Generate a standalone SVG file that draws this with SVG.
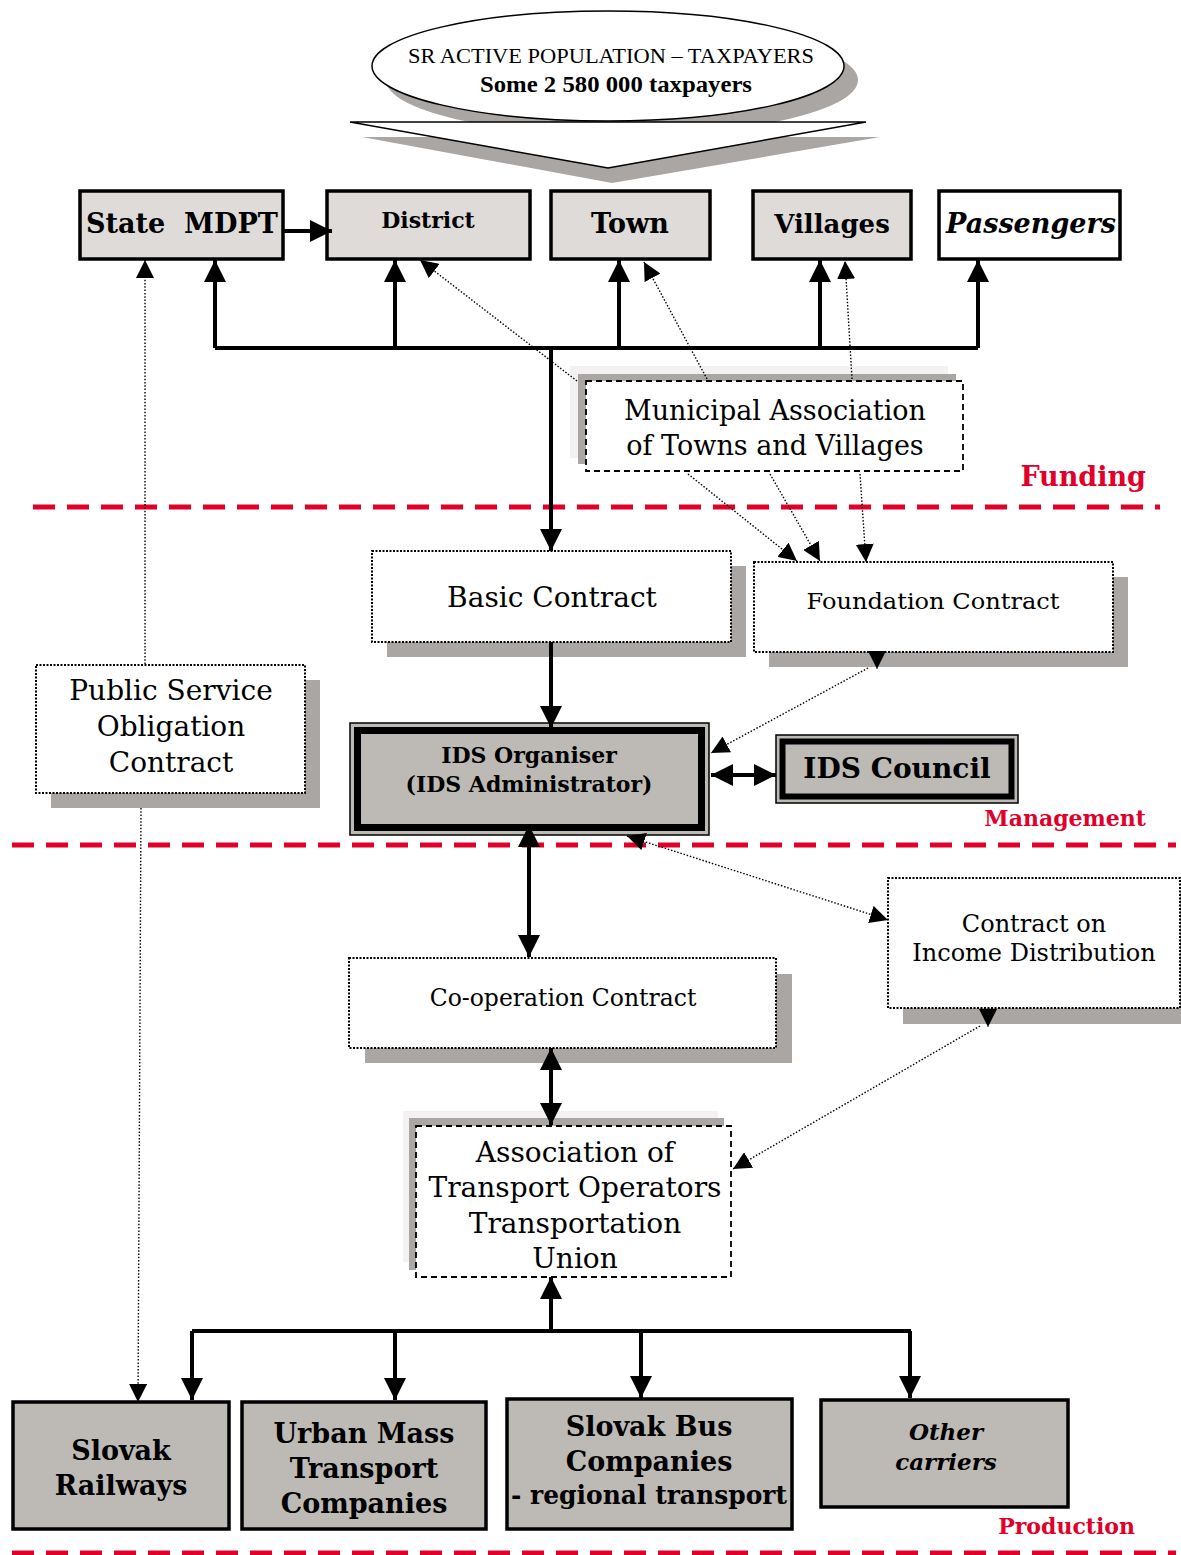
<svg xmlns="http://www.w3.org/2000/svg" width="1181" height="1555" viewBox="0 0 1181 1555">
<style>
.bk{font-family:"DejaVu Serif",serif;font-weight:bold;fill:#000;text-anchor:middle}
.rg{font-family:"DejaVu Serif",serif;fill:#000;text-anchor:middle}
.tm{font-family:"Liberation Serif",serif;fill:#000;text-anchor:middle}
.lab{font-family:"DejaVu Serif",serif;font-weight:bold;fill:#e0002a}
.top{fill:#dedbd8;stroke:#000;stroke-width:3.5}
.bot{fill:#bdbab5;stroke:#000;stroke-width:3.5}
.sh{fill:#a9a6a3}
.sh2{fill:#f3f1f1}
.dot{fill:#fff;stroke:#000;stroke-width:2;stroke-dasharray:2 1.5}
.dash{fill:#fff;stroke:#000;stroke-width:1.8;stroke-dasharray:6 4}
.sol{fill:none;stroke:#000;stroke-width:4}
.dl{fill:none;stroke:#000;stroke-width:1.4;stroke-dasharray:1.5 1.8}
.red{fill:none;stroke:#e0002a;stroke-width:5;stroke-dasharray:22 12}
</style>
<defs>
<marker id="a" markerUnits="userSpaceOnUse" markerWidth="24" markerHeight="22" refX="22" refY="11" orient="auto-start-reverse" viewBox="0 0 24 22">
<path d="M0,0 L22,11 L0,22 z" fill="#000"/>
</marker>
<marker id="s" markerUnits="userSpaceOnUse" markerWidth="20" markerHeight="18" refX="18" refY="9" orient="auto-start-reverse" viewBox="0 0 20 18">
<path d="M0,0 L18,9 L0,18 z" fill="#000"/>
</marker>
</defs>
<rect width="1181" height="1555" fill="#fff"/>

<g id="taxpayers">
<ellipse cx="622" cy="80" rx="236" ry="55" class="sh"/>
<ellipse cx="608" cy="66" rx="236" ry="55" fill="#fff" stroke="#000" stroke-width="1.5"/>
<text x="611" y="63" class="tm" font-size="21.5" textLength="406" lengthAdjust="spacingAndGlyphs">SR ACTIVE POPULATION – TAXPAYERS</text>
<text x="616" y="92" class="tm" font-size="23" font-weight="bold" textLength="272" lengthAdjust="spacingAndGlyphs">Some 2 580 000 taxpayers</text>
<polygon points="362,137 880,137 612,183" class="sh"/>
<polygon points="350,122 866,122 608,168" fill="#fff" stroke="#000" stroke-width="1.5"/>
</g>

<g id="state-mdpt"><rect x="80" y="191" width="203" height="68" class="top"/><text x="182" y="233" class="bk" font-size="27" textLength="192" lengthAdjust="spacingAndGlyphs">State&#160;&#160;MDPT</text></g>
<g id="district"><rect x="327" y="191" width="203" height="68" class="top"/><text x="428" y="228" class="bk" font-size="22">District</text></g>
<g id="town"><rect x="551" y="191" width="159" height="68" class="top"/><text x="630" y="233" class="bk" font-size="27">Town</text></g>
<g id="villages"><rect x="753" y="191" width="158" height="68" class="top"/><text x="832" y="233" class="bk" font-size="26">Villages</text></g>
<g id="passengers"><rect x="939" y="191" width="181" height="68" fill="#fff" stroke="#000" stroke-width="3.5"/><text x="1031" y="233" class="bk" font-size="27" font-style="italic">Passengers</text></g>

<g id="municipal-association">
<rect x="570" y="366" width="378" height="92" class="sh2"/>
<rect x="578" y="374" width="378" height="90" class="sh"/>
<rect x="586" y="381" width="377" height="90" class="dash"/>
<text x="775" y="420" class="rg" font-size="27">Municipal Association</text>
<text x="775" y="455" class="rg" font-size="27">of Towns and Villages</text>
</g>

<g id="basic-contract">
<rect x="387" y="566" width="359" height="91" class="sh"/>
<rect x="372" y="551" width="359" height="91" class="dot"/>
<text x="552" y="607" class="rg" font-size="28">Basic Contract</text>
</g>
<g id="foundation-contract">
<rect x="769" y="577" width="359" height="90" class="sh"/>
<rect x="754" y="562" width="359" height="90" class="dot"/>
<text x="933" y="609" class="rg" font-size="23" textLength="253" lengthAdjust="spacingAndGlyphs">Foundation Contract</text>
</g>
<g id="pso-contract">
<rect x="51" y="680" width="269" height="128" class="sh"/>
<rect x="36" y="665" width="269" height="128" class="dot"/>
<text x="171" y="700" class="rg" font-size="28">Public Service</text>
<text x="171" y="736" class="rg" font-size="28">Obligation</text>
<text x="171" y="772" class="rg" font-size="28">Contract</text>
</g>

<g id="ids-organiser">
<rect x="350" y="723" width="359" height="112" fill="#bdbab5" stroke="#000" stroke-width="1.5"/>
<rect x="357.5" y="730.5" width="344" height="97" fill="none" stroke="#000" stroke-width="7"/>
<text x="529" y="763" class="bk" font-size="22">IDS Organiser</text>
<text x="529" y="792" class="bk" font-size="22">(IDS Administrator)</text>
</g>
<g id="ids-council">
<rect x="776" y="735" width="242" height="68" fill="#bdbab5" stroke="#000" stroke-width="1.5"/>
<rect x="782.5" y="741.5" width="229" height="55" fill="none" stroke="#000" stroke-width="6"/>
<text x="897" y="778" class="bk" font-size="28">IDS Council</text>
</g>

<g id="income-contract">
<rect x="903" y="893" width="278" height="131" class="sh"/>
<rect x="888" y="878" width="292" height="130" class="dot"/>
<text x="1034" y="932" class="rg" font-size="24">Contract on</text>
<text x="1034" y="961" class="rg" font-size="24">Income Distribution</text>
</g>
<g id="cooperation-contract">
<rect x="365" y="974" width="427" height="89" class="sh"/>
<rect x="349" y="958" width="427" height="90" class="dot"/>
<text x="563" y="1006" class="rg" font-size="23.5">Co-operation Contract</text>
</g>

<g id="transport-operators">
<rect x="403" y="1111" width="315" height="151" class="sh2"/>
<rect x="409" y="1118" width="315" height="152" class="sh"/>
<rect x="416" y="1126" width="315" height="151" class="dash"/>
<text x="575" y="1162" class="rg" font-size="28">Association of</text>
<text x="575" y="1197" class="rg" font-size="28">Transport Operators</text>
<text x="575" y="1233" class="rg" font-size="28">Transportation</text>
<text x="575" y="1268" class="rg" font-size="28">Union</text>
</g>

<g id="slovak-railways"><rect x="13" y="1402" width="216" height="127" class="bot"/><text x="121" y="1460" class="bk" font-size="27">Slovak</text><text x="121" y="1495" class="bk" font-size="27">Railways</text></g>
<g id="urban-mass"><rect x="242" y="1402" width="244" height="127" class="bot"/><text x="364" y="1443" class="bk" font-size="27">Urban Mass</text><text x="364" y="1478" class="bk" font-size="27">Transport</text><text x="364" y="1513" class="bk" font-size="27">Companies</text></g>
<g id="slovak-bus"><rect x="507" y="1399" width="285" height="130" class="bot"/><text x="649" y="1436" class="bk" font-size="27">Slovak Bus</text><text x="649" y="1471" class="bk" font-size="27">Companies</text><text x="649" y="1504" class="bk" font-size="26" textLength="276" lengthAdjust="spacingAndGlyphs">- regional transport</text></g>
<g id="other-carriers"><rect x="821" y="1400" width="247" height="107" class="bot"/><text x="946" y="1440" class="bk" font-size="23" font-style="italic">Other</text><text x="946" y="1470" class="bk" font-size="23" font-style="italic">carriers</text></g>

<g id="section-labels">
<path d="M33,507 H1160" class="red"/>
<path d="M12,845 H1176" class="red"/>
<path d="M12,1553 H1176" class="red"/>
<text x="1146" y="486" class="lab" font-size="27" text-anchor="end">Funding</text>
<text x="1146" y="826" class="lab" font-size="22" text-anchor="end">Management</text>
<text x="1135" y="1534" class="lab" font-size="22" text-anchor="end">Production</text>
</g>

<g id="connectors">
<path d="M283,231 H332" class="sol" marker-end="url(#a)"/>
<path d="M215,348 H978" class="sol"/>
<path d="M215,348 V260" class="sol" marker-end="url(#a)"/>
<path d="M395,348 V260" class="sol" marker-end="url(#a)"/>
<path d="M619,348 V260" class="sol" marker-end="url(#a)"/>
<path d="M820,348 V260" class="sol" marker-end="url(#a)"/>
<path d="M978,348 V260" class="sol" marker-end="url(#a)"/>
<path d="M551,346 V551" class="sol" marker-end="url(#a)"/>
<path d="M551,642 V728" class="sol" marker-end="url(#a)"/>
<path d="M711,775 H776" class="sol" marker-start="url(#a)" marker-end="url(#a)"/>
<path d="M529,825 V957" class="sol" marker-start="url(#a)" marker-end="url(#a)"/>
<path d="M551,1048 V1125" class="sol" marker-start="url(#a)" marker-end="url(#a)"/>
<path d="M551,1333 V1277" class="sol" marker-end="url(#a)"/>
<path d="M192,1331 H911" class="sol"/>
<path d="M192,1331 V1400" class="sol" marker-end="url(#a)"/>
<path d="M395,1331 V1400" class="sol" marker-end="url(#a)"/>
<path d="M641,1331 V1398" class="sol" marker-end="url(#a)"/>
<path d="M910,1331 V1398" class="sol" marker-end="url(#a)"/>

<path d="M145,664 V260" class="dl" marker-end="url(#s)"/>
<path d="M141,808 L138,1402" class="dl" marker-end="url(#s)"/>
<path d="M577,381 L420,260" class="dl" marker-end="url(#s)"/>
<path d="M707,379 L644,262" class="dl" marker-end="url(#s)"/>
<path d="M852,379 L845,261" class="dl" marker-end="url(#s)"/>
<path d="M688,474 L797,561" class="dl" marker-end="url(#s)"/>
<path d="M770,474 L820,561" class="dl" marker-end="url(#s)"/>
<path d="M860,474 L866,562" class="dl" marker-end="url(#s)"/>
<path d="M877,652 V669" class="dl" marker-end="url(#s)"/>
<path d="M868,668 L711,753" class="dl" marker-end="url(#s)"/>
<path d="M627,836 L888,920" class="dl" marker-start="url(#s)" marker-end="url(#s)"/>
<path d="M988,1010 V1027" class="dl" marker-end="url(#s)"/>
<path d="M980,1026 L733,1169" class="dl" marker-end="url(#s)"/>
</g>
</svg>
